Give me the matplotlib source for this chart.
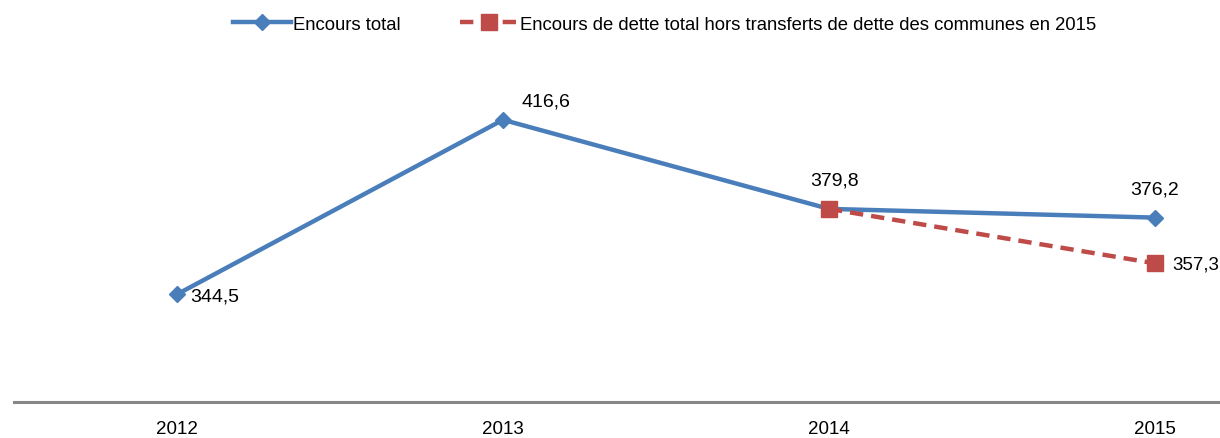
import numpy as np
import matplotlib
matplotlib.use("Agg")
import matplotlib.pyplot as plt

plt.rcParams['font.family'] = ['Liberation Sans', 'DejaVu Sans']

years = ["2012", "2013", "2014", "2015"]
encours_total = [344.5, 416.6, 379.8, 376.2]
hors_transferts = [np.nan, np.nan, 379.8, 357.3]
total_labels = ["344,5", "416,6", "379,8", "376,2"]
hors_labels = [None, None, None, "357,3"]

BLUE = "#4A7EBB"
RED = "#BE4B48"

fig = plt.figure(figsize=(12.2, 4.39), dpi=100)
ax = fig.add_axes([14 / 1220, 1 - 403 / 439, 1 - 14 / 1220, (403 - 40) / 439])

x = np.arange(len(years))
ax.plot(x, encours_total, color=BLUE, lw=3.2, marker="D", markersize=8,
        label="Encours total", zorder=3)
ax.plot(x, hors_transferts, color=RED, lw=3.2, ls=(0, (3, 1.8)), marker="s",
        markersize=11, label="Encours de dette total hors transferts de dette des communes en 2015",
        zorder=4)

# data labels (offsets in pixels)
total_offsets = [(13, -2, "left"), (18, 19, "left"), (6, 29, "center"), (0, 29, "center")]
for xi, v, lab, (dx, dy, ha) in zip(x, encours_total, total_labels, total_offsets):
    ax.annotate(lab, (xi, v), xytext=(dx, dy), textcoords="offset pixels",
                ha=ha, va="center", fontsize=14, color="black")
for xi, v, lab in zip(x, hors_transferts, hors_labels):
    if lab:
        ax.annotate(lab, (xi, v), xytext=(17, -1), textcoords="offset pixels",
                    ha="left", va="center", fontsize=13.5, color="black")

ax.set_xlim(-0.5, (1220 - 177) / 326)
ax.set_ylim(300, 450)
ax.set_xticks(x)
ax.set_xticklabels(years, fontsize=13.5)
ax.tick_params(axis="x", length=0, pad=13)
ax.set_yticks([])
for side in ["top", "right", "left"]:
    ax.spines[side].set_visible(False)
ax.spines["bottom"].set_color("#868686")
ax.spines["bottom"].set_linewidth(2.2)

fig.legend(loc="center", bbox_to_anchor=(0.545, 1 - 25 / 439), ncol=2, frameon=False,
           fontsize=13.3, columnspacing=3.2, handlelength=3.1, handletextpad=0.15)

fig.savefig("out.png", dpi=100)
